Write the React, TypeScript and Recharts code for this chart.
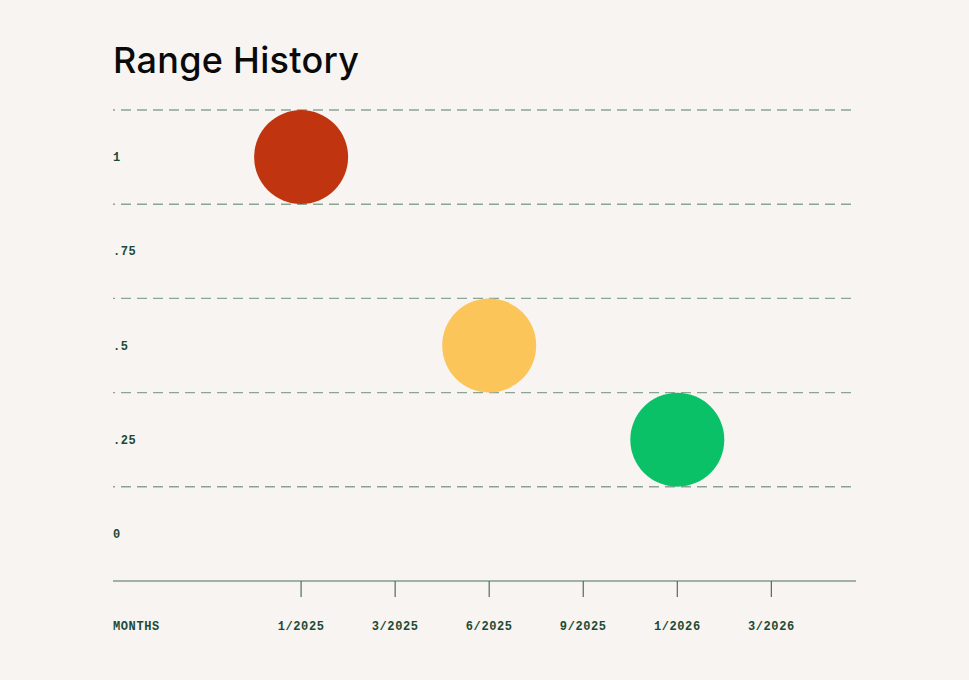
import React from 'react';
import { ScatterChart, Scatter, XAxis, YAxis, ReferenceLine, Cell } from 'recharts';

const monthTicks = [0, 2, 3, 4, 5, 6, 7];
const monthLabels = ['MONTHS', '1/2025', '3/2025', '6/2025', '9/2025', '1/2026', '3/2026'];
const rangeTicks = [0, 0.25, 0.5, 0.75, 1];
const rangeLabels = ['0', '.25', '.5', '.75', '1'];
const bandEdges = [0.125, 0.375, 0.625, 0.875, 1.125];

const pointMonth = [2, 4, 6];
const pointRange = [1, 0.5, 0.25];
const pointColors = ['#c0350f', '#fcc55a', '#0ac168'];

const points = pointMonth.map((m, i) => ({ month: m, range: pointRange[i] }));

const ink = '#1d4a35';
const tickFont = "'Liberation Mono', 'DejaVu Sans Mono', monospace";

const MonthTick = (props: any) => {
	const { x, payload } = props;
	const idx = monthTicks.indexOf(payload.value);
	const first = payload.value === 0;
	return (
		<g>
			{!first && <line x1={x} x2={x} y1={581} y2={597} stroke='#4f6e5c' strokeWidth={1.2} />}
			<text x={x} y={630} textAnchor={first ? 'start' : 'middle'} fill={ink} fontFamily={tickFont} fontSize={12} fontWeight={700} letterSpacing={0.6}>
				{monthLabels[idx]}
			</text>
		</g>
	);
};

const RangeTick = (props: any) => {
	const { y, payload } = props;
	const idx = rangeTicks.indexOf(payload.value);
	return (
		<text x={113} y={y + 4} textAnchor='start' fill={ink} fontFamily={tickFont} fontSize={12} fontWeight={700} letterSpacing={0.6}>
			{rangeLabels[idx]}
		</text>
	);
};

export default function App() {
	return (
		<div style={{ position: 'absolute', left: 0, top: 0, width: 969, height: 680, background: '#f7f4f1' }}>
			<div style={{ position: 'absolute', left: 113, top: 38, fontFamily: 'Inter, sans-serif', fontWeight: 500, fontSize: 36, color: '#0a0a0a', letterSpacing: 0.3 }}>
				Range History
			</div>
			<ScatterChart width={969} height={680} margin={{ top: 110, left: 0, right: 113, bottom: 0 }}>
				<XAxis type='number' dataKey='month' domain={[0, 7.9]} ticks={monthTicks} interval={0} height={99} tickSize={0} tickMargin={0} tick={<MonthTick />} stroke='#4f6e5c' strokeWidth={1.2} allowDataOverflow />
				<YAxis type='number' dataKey='range' domain={[-0.125, 1.125]} ticks={rangeTicks} interval={0} width={113} axisLine={false} tickLine={false} tick={<RangeTick />} allowDataOverflow />
				<Scatter
					data={points}
					isAnimationActive={false}
					shape={(p: any) => <circle cx={p.cx} cy={p.cy} r={47} fill={p.fill} />}
				>
					{points.map((_, i) => (
						<Cell key={i} fill={pointColors[i]} />
					))}
				</Scatter>
				{bandEdges.map((v) => (
					<ReferenceLine key={v} y={v} stroke='#8aa594' strokeWidth={1.4} strokeDasharray='10 6' strokeDashoffset={8} ifOverflow='extendDomain' />
				))}
			</ScatterChart>
		</div>
	);
}
